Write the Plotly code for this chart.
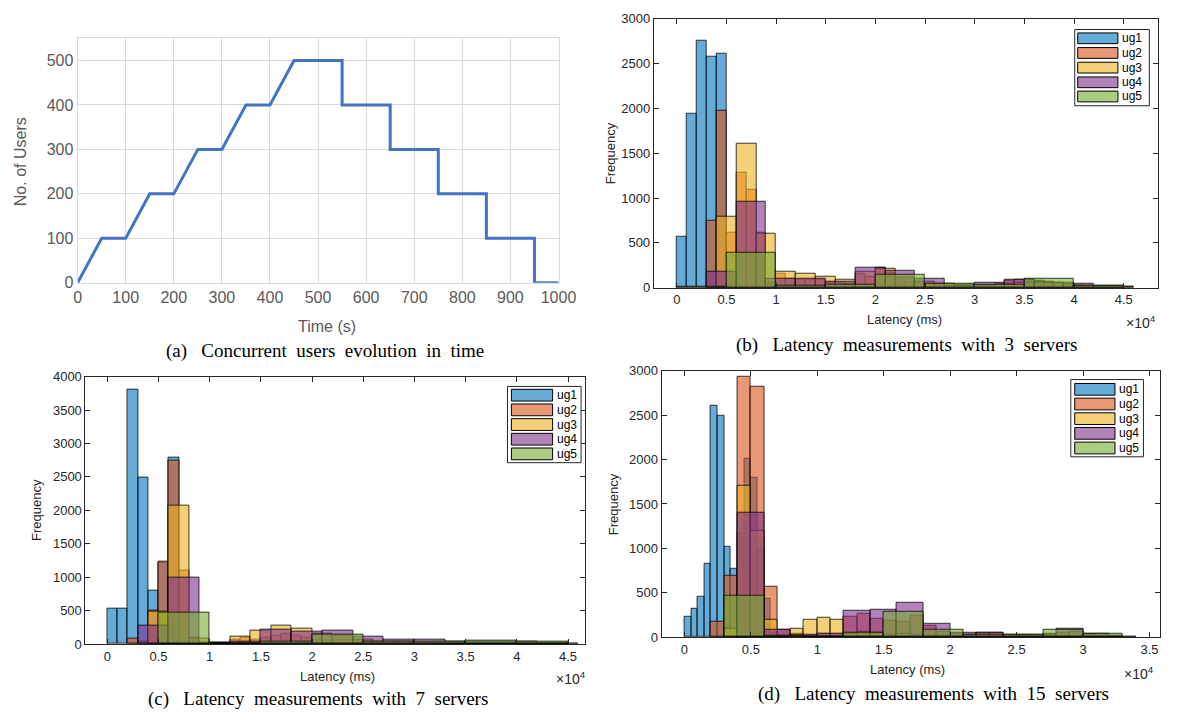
import plotly.graph_objects as go

# ---------------- data ----------------
# (a) concurrent users over time
time_s = [0, 50, 100, 150, 200, 250, 300, 350, 400, 450, 550, 550, 650, 650,
          750, 750, 850, 850, 950, 950, 1000]
users = [0, 100, 100, 200, 200, 300, 300, 400, 400, 500, 500, 400, 400, 300,
         300, 200, 200, 100, 100, 0, 0]

groups = ["ug1", "ug2", "ug3", "ug4", "ug5"]

# (b) 3 servers : (first bin start ms, bin width ms, counts)
s3_ug1_start, s3_ug1_width = 0, 1000
s3_ug1 = [566, 1938, 2756, 2573, 2613]
s3_ug2_start, s3_ug2_width = 3000, 1000
s3_ug2 = [752, 1975, 613, 1278, 1095, 613, 60, 150, 100, 90, 90, 85, 60, 50, 45,
          150, 120, 220, 170, 90, 70, 50, 40, 30, 25, 20, 20, 25, 25, 30, 73, 84,
          90, 80, 50, 40, 30, 20, 15, 10, 10, 8, 5]
s3_ug3_start, s3_ug3_width = 4000, 2000
s3_ug3 = [796, 1610, 606, 183, 150, 120, 90, 180, 212, 110, 70, 40, 30, 25, 40,
          60, 70, 50, 20, 10, 5]
s3_ug4_start, s3_ug4_width = 3000, 3000
s3_ug4 = [175, 953, 100, 100, 70, 223, 186, 95, 25, 58, 84, 60, 47, 22]
s3_ug5_start, s3_ug5_width = 0, 5000
s3_ug5 = [5, 394, 25, 30, 139, 47, 37, 95, 22]

# (c) 7 servers
s7_ug1_start, s7_ug1_width = 0, 1000
s7_ug1 = [526, 536, 3800, 2490, 804, 1225, 2787]
s7_ug2_start, s7_ug2_width = 2000, 1000
s7_ug2 = [83, 40, 500, 1230, 2738, 1096, 100, 30, 25, 25, 60, 90, 60, 100, 130,
          160, 120, 100, 60, 50, 60, 60, 50, 30, 25, 20, 15, 15, 15, 15, 12, 12,
          12, 10, 10, 10, 10, 10, 10, 8, 8, 8, 5]
s7_ug3_start, s7_ug3_width = 4000, 2000
s7_ug3 = [480, 2066, 80, 15, 117, 200, 282, 224, 150, 120, 60, 40, 30, 25, 20,
          20, 15, 15, 10, 10, 5]
s7_ug4_start, s7_ug4_width = 3000, 3000
s7_ug4 = [275, 990, 10, 40, 210, 190, 200, 110, 60, 60, 40, 40, 30, 20]
s7_ug5_start, s7_ug5_width = 5000, 5000
s7_ug5 = [463, 5, 40, 146, 34, 34, 49, 34]

# (d) 15 servers
s15_ug1_start, s15_ug1_width = 0, 500
s15_ug1 = [231, 323, 459, 822, 2603, 2493, 1013, 771, 1168, 2012, 1792, 995,
           430, 50]
s15_ug2_start, s15_ug2_width = 2000, 1000
s15_ug2 = [176, 690, 2938, 2820, 573, 81, 40, 20, 40, 40, 228, 268, 209, 180,
           170, 240, 130, 60, 40, 30, 45, 45, 20, 15, 20, 40, 50, 60, 30, 20, 15]
s15_ug3_start, s15_ug3_width = 3000, 1000
s15_ug3 = [100, 1707, 1200, 195, 15, 92, 200, 215, 200, 40, 60, 50, 30, 40, 30,
           20, 20, 10, 10, 10, 10, 5, 5, 5, 5, 5, 5, 5, 5, 5]
s15_ug4_start, s15_ug4_width = 4000, 2000
s15_ug4 = [1399, 81, 30, 44, 301, 312, 393, 154, 55, 55, 25, 30, 92, 40, 10]
s15_ug5_start, s15_ug5_width = 3000, 3000
s15_ug5 = [463, 20, 10, 48, 290, 84, 25, 25, 81, 37]

captions = ["(a)  Concurrent users evolution in time",
            "(b)  Latency measurements with 3 servers",
            "(c)  Latency measurements with 7 servers",
            "(d)  Latency measurements with 15 servers"]

# ---------------- styling ----------------
W, H = 1185, 722
colors = [(0, 114, 189), (217, 83, 25), (237, 177, 32), (126, 47, 142), (119, 172, 48)]
ALPHA = 0.6
SANS = "Liberation Sans, Arial, Helvetica, sans-serif"
SERIF = "Liberation Serif, Times New Roman, serif"
AX = "#262626"


def X(px):
    return px / W


def Y(py):
    return 1 - py / H


def rgba(c, a):
    return "rgba(%d,%d,%d,%.2f)" % (c[0], c[1], c[2], a)


fig = go.Figure()

# (a) line chart
fig.add_trace(go.Scatter(x=time_s, y=users, mode="lines",
                         line=dict(color="#4472C4", width=3),
                         xaxis="x", yaxis="y", showlegend=False, hoverinfo="skip"))


def add_hist(start, width, counts, color, xa, ya):
    centers = [start + (i + 0.5) * width for i in range(len(counts))]
    fig.add_trace(go.Bar(x=centers, y=counts, width=[width] * len(counts),
                         marker=dict(color=rgba(color, ALPHA),
                                     line=dict(color="rgba(0,0,0,0.75)", width=1)),
                         xaxis=xa, yaxis=ya, showlegend=False, hoverinfo="skip"))


panels = [
    ("x2", "y2", [(s3_ug1_start, s3_ug1_width, s3_ug1), (s3_ug2_start, s3_ug2_width, s3_ug2),
                  (s3_ug3_start, s3_ug3_width, s3_ug3), (s3_ug4_start, s3_ug4_width, s3_ug4),
                  (s3_ug5_start, s3_ug5_width, s3_ug5)]),
    ("x3", "y3", [(s7_ug1_start, s7_ug1_width, s7_ug1), (s7_ug2_start, s7_ug2_width, s7_ug2),
                  (s7_ug3_start, s7_ug3_width, s7_ug3), (s7_ug4_start, s7_ug4_width, s7_ug4),
                  (s7_ug5_start, s7_ug5_width, s7_ug5)]),
    ("x4", "y4", [(s15_ug1_start, s15_ug1_width, s15_ug1), (s15_ug2_start, s15_ug2_width, s15_ug2),
                  (s15_ug3_start, s15_ug3_width, s15_ug3), (s15_ug4_start, s15_ug4_width, s15_ug4),
                  (s15_ug5_start, s15_ug5_width, s15_ug5)]),
]
for xa, ya, series in panels:
    for (st, wd, cnt), col in zip(series, colors):
        add_hist(st, wd, cnt, col, xa, ya)

# axes
a_x = dict(domain=[X(75), X(565)], range=[0, 1000], tickvals=list(range(0, 1001, 100)),
           showgrid=True, gridcolor="#d9d9d9", gridwidth=1, showline=True,
           linecolor="#d9d9d9", mirror=True, zeroline=False, ticks="",
           tickfont=dict(family=SANS, size=16, color="#595959"), anchor="y")
a_y = dict(domain=[Y(282), Y(32)], range=[0, 550], tickvals=list(range(0, 501, 100)),
           showgrid=True, gridcolor="#d9d9d9", gridwidth=1, showline=True,
           linecolor="#d9d9d9", mirror=True, zeroline=False, ticks="",
           tickfont=dict(family=SANS, size=16, color="#595959"), anchor="x")


def hx(dom, rng, ticks, anchor):
    return dict(domain=dom, range=rng, tickvals=[t * 10000 for t in ticks],
                ticktext=[("%g" % t) for t in ticks], showgrid=False, zeroline=False,
                showline=True, linecolor=AX, linewidth=1, mirror="ticks",
                ticks="inside", ticklen=5, tickcolor=AX, tickwidth=1,
                tickfont=dict(family=SANS, size=13, color=AX), anchor=anchor)


def hy(dom, top, anchor):
    return dict(domain=dom, range=[0, top], tickvals=list(range(0, top + 1, 500)),
                showgrid=False, zeroline=False, showline=True, linecolor=AX,
                linewidth=1, mirror="ticks", ticks="inside", ticklen=5, tickcolor=AX,
                tickwidth=1, tickfont=dict(family=SANS, size=13, color=AX), anchor=anchor)


fig.update_layout(
    width=W, height=H, margin=dict(l=0, r=0, t=0, b=0),
    paper_bgcolor="white", plot_bgcolor="white", barmode="overlay", bargap=0,
    showlegend=False,
    xaxis=a_x, yaxis=a_y,
    xaxis2=hx([X(662), X(1176)], [-2320, 48470], [0, 0.5, 1, 1.5, 2, 2.5, 3, 3.5, 4, 4.5], "y2"),
    yaxis2=hy([Y(287), Y(12)], 3000, "x2"),
    xaxis3=hx([X(83), X(592)], [-2140, 46660], [0, 0.5, 1, 1.5, 2, 2.5, 3, 3.5, 4, 4.5], "y3"),
    yaxis3=hy([Y(651.5), Y(378)], 4000, "x3"),
    xaxis4=hx([X(670), X(1178)], [-1720, 35800], [0, 0.5, 1, 1.5, 2, 2.5, 3, 3.5], "y4"),
    yaxis4=hy([Y(644.5), Y(372)], 3000, "x4"),
)

ann = []
shapes = []


def text(px, py, s, size, color=AX, family=SANS, angle=0, xanchor="center"):
    ann.append(dict(x=X(px), y=Y(py), xref="paper", yref="paper", text=s,
                    showarrow=False, xanchor=xanchor, yanchor="middle", textangle=angle,
                    font=dict(family=family, size=size, color=color)))


def spaced(s):
    return s.replace("  ", "\u00a0\u00a0\u00a0").replace(" ", " \u00a0")


# axis titles
text(329, 327, "Time (s)", 16, "#595959")
text(17, 158, "No. of Users", 16, "#595959", angle=-90)
text(918, 320, "Latency (ms)", 13)
text(618, 150, "Frequency", 13, angle=-90)
text(340, 685, "Latency (ms)", 13)
text(33, 514, "Frequency", 13, angle=-90)
text(921, 678, "Latency (ms)", 13)
text(621, 508, "Frequency", 13, angle=-90)
# x10^4 multipliers
for px, py in [(1158, 322), (578, 686), (1156, 681)]:
    text(px, py, "×10<sup>4</sup>", 14)
# captions
text(327, 352, spaced(captions[0]), 19, "#000000", SERIF)
text(920, 346, spaced(captions[1]), 19, "#000000", SERIF)
text(320, 708, spaced(captions[2]), 19, "#000000", SERIF)
text(947, 703, spaced(captions[3]), 19, "#000000", SERIF)


# legends
def legend(x0, y0, x1, y1, px0, px1, rows, tx):
    shapes.append(dict(type="rect", xref="paper", yref="paper", x0=X(x0), x1=X(x1),
                       y0=Y(y1), y1=Y(y0), line=dict(color=AX, width=1), fillcolor="white"))
    for (r0, r1), col, g in zip(rows, colors, groups):
        shapes.append(dict(type="rect", xref="paper", yref="paper", x0=X(px0), x1=X(px1),
                           y0=Y(r1), y1=Y(r0), line=dict(color="#000000", width=1),
                           fillcolor=rgba(col, ALPHA)))
        text(tx, (r0 + r1) / 2, g, 12, "#000000", xanchor="left")


legend(1091, 23, 1167, 101, 1094, 1135,
       [(26.5, 37.5), (41.5, 52.5), (56.5, 67.5), (71.5, 82.5), (86, 97)], 1137)
legend(513, 388, 588, 466, 517, 559,
       [(391, 403), (406, 418), (421, 433), (436, 448), (451, 463)], 561)
legend(1087, 381, 1161, 460, 1091, 1132,
       [(385, 397), (400, 412), (415, 427), (430, 442), (445, 457)], 1134)

fig.update_layout(annotations=ann, shapes=shapes)

fig.write_html("out.html", config={"displayModeBar": False},
               post_script="document.body.style.margin='0px';document.body.style.overflow='hidden';")
